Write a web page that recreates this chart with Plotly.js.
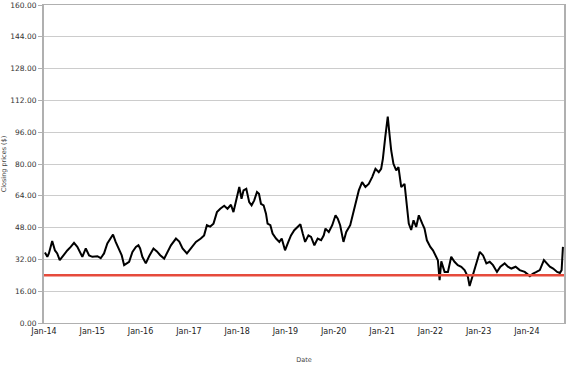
<!DOCTYPE html>
<html>
<head>
<meta charset="utf-8">
<script src="https://cdn.plot.ly/plotly-3.0.1.min.js"></script>
<style>html,body{margin:0;padding:0;background:#fff;}#chart{width:577px;height:367px;}</style>
</head>
<body>
<div id="chart"></div>
<script>
const dates = [
"2014-01-08","2014-01-26","2014-02-07","2014-03-04","2014-03-25","2014-04-11","2014-04-30","2014-05-25","2014-06-26","2014-07-22",
"2014-08-16","2014-09-10","2014-10-06","2014-10-18","2014-11-13","2014-12-08","2015-01-02","2015-02-09","2015-03-06","2015-03-31",
"2015-04-25","2015-05-21","2015-06-07","2015-06-27","2015-07-23","2015-08-12","2015-08-30","2015-09-16","2015-10-07","2015-11-01",
"2015-11-27","2015-12-16","2015-12-29","2016-01-15","2016-02-10","2016-03-06","2016-04-08","2016-05-04","2016-05-29","2016-06-28",
"2016-07-23","2016-08-18","2016-09-25","2016-10-20","2016-11-14","2016-12-17","2017-01-16","2017-02-23","2017-04-01","2017-04-26",
"2017-05-17","2017-06-11","2017-07-06","2017-08-01","2017-08-26","2017-09-25","2017-10-20","2017-11-15","2017-12-04","2018-01-01",
"2018-01-17","2018-02-03","2018-02-18","2018-03-11","2018-04-02","2018-04-20","2018-05-10","2018-05-31","2018-06-15","2018-06-30",
"2018-07-20","2018-08-07","2018-08-19","2018-09-09","2018-09-26","2018-10-22","2018-11-16","2018-12-04","2018-12-29","2019-01-23",
"2019-02-12","2019-03-09","2019-03-30","2019-04-24","2019-05-12","2019-05-30","2019-06-24","2019-07-14","2019-08-08","2019-09-02",
"2019-09-28","2019-10-18","2019-10-31","2019-11-25","2019-12-21","2020-01-15","2020-02-01","2020-02-19","2020-03-15","2020-04-05",
"2020-05-05","2020-05-25","2020-06-19","2020-07-09","2020-08-03","2020-08-28","2020-09-22","2020-10-18","2020-11-12","2020-12-07",
"2020-12-25","2021-01-07","2021-01-25","2021-02-13","2021-02-26","2021-03-11","2021-03-28","2021-04-18","2021-05-05","2021-05-26",
"2021-06-20","2021-07-03","2021-07-22","2021-08-09","2021-08-27","2021-09-16","2021-10-06","2021-11-01","2021-11-18","2021-12-06",
"2022-01-01","2022-01-21","2022-02-10","2022-02-27","2022-03-12","2022-03-25","2022-04-19","2022-05-14","2022-06-08","2022-07-03",
"2022-07-28","2022-08-23","2022-09-17","2022-10-12","2022-10-25","2022-11-14","2022-12-09","2023-01-10","2023-02-04","2023-03-01",
"2023-03-26","2023-04-20","2023-05-20","2023-06-15","2023-07-17","2023-08-11","2023-09-06","2023-10-08","2023-11-08","2023-12-16",
"2024-01-24","2024-02-17","2024-03-14","2024-04-08","2024-05-09","2024-05-29","2024-06-23","2024-07-18","2024-08-17","2024-09-07",
"2024-09-20","2024-09-30"
];
const closingPrices = [
35.5,33.3,35.0,41.3,36.5,35.0,31.6,34.0,36.5,38.3,
40.3,38.3,35.0,33.3,37.5,34.0,33.3,33.6,32.6,35.0,
40.0,42.5,44.5,40.8,36.5,34.0,29.1,30.0,30.8,35.8,
38.3,39.1,37.5,33.3,30.0,33.6,37.5,36.0,34.1,32.4,
36.0,39.1,42.5,41.0,37.5,35.0,37.5,40.8,42.5,44.1,
49.2,48.5,50.0,55.8,57.5,59.0,57.5,59.5,55.8,63.4,
68.4,62.5,66.7,67.5,60.8,59.2,61.7,65.9,65.0,60.0,
59.2,55.0,50.0,49.2,45.0,42.5,40.8,42.5,36.6,40.8,
44.1,46.7,48.3,49.7,45.0,40.8,44.1,43.3,39.1,42.5,
41.7,44.1,47.5,45.8,49.2,54.2,52.5,49.2,40.8,45.8,
49.2,55.0,61.7,66.7,70.9,68.4,70.0,73.4,77.6,75.9,
77.6,82.6,93.5,103.8,95.1,86.8,80.1,76.8,78.4,68.4,
70.0,61.7,50.0,46.8,51.7,48.3,54.2,50.0,47.5,41.6,
38.3,36.6,34.1,31.6,21.6,31.0,25.7,25.7,33.3,30.8,
29.1,28.3,26.6,23.2,18.6,23.2,29.1,35.8,34.0,30.0,
30.8,29.1,25.7,28.3,30.0,28.3,27.4,28.3,26.6,25.7,
23.6,24.9,25.7,26.6,31.6,30.0,28.3,27.4,25.7,25.2,
26.6,38.3
];
const threshold = 24;
const yTicks = [0,16,32,48,64,80,96,112,128,144,160];

const font = "DejaVu Sans, Verdana, sans-serif";
const data = [{
  x: dates, y: closingPrices, type: "scatter", mode: "lines",
  line: {color: "#000000", width: 2}, hoverinfo: "skip"
}];
const layout = {
  width: 577, height: 367,
  margin: {l: 44, r: 13, t: 5, b: 44},
  paper_bgcolor: "#ffffff", plot_bgcolor: "#ffffff",
  showlegend: false,
  font: {family: font, size: 8, color: "#333333"},
  xaxis: {
    type: "date", range: ["2014-01-01", "2024-10-08"],
    dtick: "M12", tick0: "2014-01-01", tickformat: "%b-%y",
    showgrid: false, zeroline: false,
    showline: true, linecolor: "#b0b0b0", linewidth: 1, mirror: true,
    ticks: "", tickfont: {family: font, size: 8, color: "#222222"},
    title: {text: "Date", font: {family: font, size: 6.5, color: "#444444"}, standoff: 22}
  },
  yaxis: {
    range: [0, 160], tickvals: yTicks, tickformat: ".2f",
    showgrid: true, gridcolor: "#cccccc", gridwidth: 1, zeroline: false,
    showline: true, linecolor: "#b0b0b0", linewidth: 2, mirror: true,
    ticks: "outside", ticklen: 4, tickcolor: "#b0b0b0", tickwidth: 1,
    ticklabeloverflow: "allow",
    tickfont: {family: font, size: 7.5, color: "#333333"},
    title: {text: "Closing prices ($)", font: {family: font, size: 6.5, color: "#444444"}, standoff: 6}
  },
  shapes: [{
    type: "line", xref: "paper", x0: 0, x1: 1, yref: "y", y0: threshold, y1: threshold,
    line: {color: "#e64b3c", width: 2.5}
  }]
};
Plotly.newPlot("chart", data, layout, {displayModeBar: false, staticPlot: true});
</script>
</body>
</html>
